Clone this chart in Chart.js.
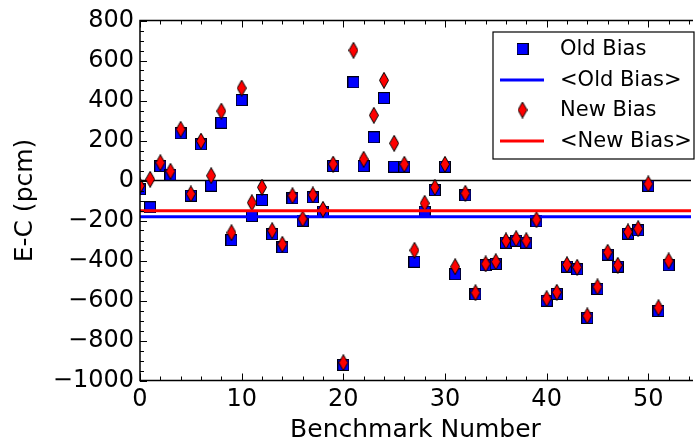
<!DOCTYPE html>
<html><head><meta charset="utf-8">
<script src="https://cdn.jsdelivr.net/npm/chart.js@4"></script>
<style>html,body{margin:0;padding:0;background:#fff;overflow:hidden}</style>
</head><body>
<canvas id="c" width="698" height="443" style="width:698px;height:443px;display:block"></canvas>
<script>
// ---- data ----
const benchmarks = [0,1,2,3,4,5,6,7,8,9,10,11,12,13,14,15,16,17,18,19,20,21,22,23,24,25,26,27,28,29,30,31,32,33,34,35,36,37,38,39,40,41,42,43,44,45,46,47,48,49,50,51,52];
const oldBias = [-44,-134,72,29,236,-76,181,-26,289,-298,402,-178,-98,-268,-334,-89,-201,-84,-156,72,-922,491,72,216,412,69,69,-406,-156,-48,69,-469,-74,-569,-424,-417,-311,-301,-311,-204,-601,-567,-431,-444,-687,-542,-371,-431,-266,-249,-27,-652,-424];
const newBias = [-27,6,89,46,256,-67,197,24,347,-261,462,-111,-34,-251,-319,-76,-192,-72,-144,82,-911,651,106,326,501,186,81,-349,-114,-34,81,-431,-64,-561,-417,-406,-302,-291,-301,-196,-591,-559,-421,-434,-677,-532,-359,-424,-257,-241,-17,-636,-402];
const oldMean = [-181];
const newMean = [-151];
const xRange = [0, 54.2];
const yRange = [-1000, 800];
const xTickLabels = [0,10,20,30,40,50];
const yTickLabels = [-1000,-800,-600,-400,-200,0,200,400,600,800];
const legendLabels = ['Old Bias','<Old Bias>','New Bias','<New Bias>'];

const FONT = "'DejaVu Sans', sans-serif";

// marker images
function makeSquare(){
  const c=document.createElement('canvas'); c.width=12; c.height=12;
  const g=c.getContext('2d');
  g.fillStyle='#000010'; g.fillRect(0,0,12,12);
  g.fillStyle='#0000ff'; g.fillRect(1,1,10,10);
  return c;
}
function makeDiamond(){
  const c=document.createElement('canvas'); c.width=10; c.height=17;
  const g=c.getContext('2d');
  g.beginPath(); g.moveTo(5,0.5); g.lineTo(9.5,8.5); g.lineTo(5,16.5); g.lineTo(0.5,8.5); g.closePath();
  g.fillStyle='#ff0000'; g.fill(); g.lineWidth=1; g.strokeStyle='#000'; g.stroke();
  return c;
}
const sq=makeSquare(), dm=makeDiamond();

const pts = (arr)=>benchmarks.map((b,i)=>({x:b,y:arr[i]}));
const hline = (v)=>[{x:xRange[0],y:v},{x:xRange[1],y:v}];

const framePlugin = {
  id:'frame',
  afterDatasetsDraw(chart){
    const ctx=chart.ctx, a=chart.chartArea, xs=chart.scales.x, ys=chart.scales.y;
    ctx.save();
    ctx.strokeStyle='#000'; ctx.lineWidth=1;
    // x ticks (minor every 2, major every 10), top and bottom, inward
    for(let v=0; v<=54; v+=2){
      const px=Math.round(xs.getPixelForValue(v))+0.5;
      const len=(v%10===0)?7:4;
      ctx.beginPath();
      ctx.moveTo(px,a.bottom); ctx.lineTo(px,a.bottom-len);
      ctx.moveTo(px,a.top); ctx.lineTo(px,a.top+len);
      ctx.stroke();
    }
    // y ticks (minor every 50, major every 200), left, inward
    for(let v=yRange[0]; v<=yRange[1]; v+=50){
      const py=Math.round(ys.getPixelForValue(v))+0.5;
      const len=(v%200===0)?7:4;
      ctx.beginPath(); ctx.moveTo(a.left,py); ctx.lineTo(a.left+len,py); ctx.stroke();
    }
    // spines
    ctx.lineWidth=1.5;
    ctx.beginPath();
    ctx.moveTo(a.right+2,a.top); ctx.lineTo(a.left,a.top); ctx.lineTo(a.left,a.bottom); ctx.lineTo(a.right+2,a.bottom);
    ctx.stroke();
    // legend
    const L=493, T=32, W=201, H=127;
    ctx.fillStyle='#fff'; ctx.fillRect(L,T,W,H);
    ctx.lineWidth=1.2; ctx.strokeStyle='#000'; ctx.strokeRect(L,T,W,H);
    const rows=[49,80,110,141];
    ctx.drawImage(sq, 522.5-6, rows[0]-6);
    ctx.lineWidth=3;
    ctx.strokeStyle='#0000ff'; ctx.beginPath(); ctx.moveTo(500,rows[1]); ctx.lineTo(544,rows[1]); ctx.stroke();
    ctx.drawImage(dm, 522.5-5, rows[2]-8.5);
    ctx.strokeStyle='#ff0000'; ctx.beginPath(); ctx.moveTo(500,rows[3]); ctx.lineTo(544,rows[3]); ctx.stroke();
    ctx.fillStyle='#000'; ctx.font='21px '+FONT; ctx.textBaseline='middle'; ctx.textAlign='left';
    legendLabels.forEach((t,i)=>ctx.fillText(t,560,rows[i]+1));
    ctx.restore();
  }
};

new Chart(document.getElementById('c'), {
  type:'scatter',
  data:{datasets:[
    {label:'zero', data:hline(0), showLine:true, borderColor:'#000', borderWidth:1.5, pointRadius:0, order:5},
    {label:legendLabels[0], data:pts(oldBias), pointStyle:sq, pointRadius:6, order:4},
    {label:legendLabels[1], data:hline(oldMean[0]), showLine:true, borderColor:'#0000ff', borderWidth:3, pointRadius:0, order:3},
    {label:legendLabels[2], data:pts(newBias), pointStyle:dm, pointRadius:6, order:2},
    {label:legendLabels[3], data:hline(newMean[0]), showLine:true, borderColor:'#ff0000', borderWidth:3, pointRadius:0, order:1}
  ]},
  options:{
    responsive:false, animation:false, devicePixelRatio:1,
    layout:{padding:{top:20.5,right:0,bottom:0,left:0}},
    plugins:{legend:{display:false}, tooltip:{enabled:false}},
    scales:{
      x:{type:'linear', position:'bottom', min:xRange[0], max:xRange[1],
        grid:{display:false, drawTicks:false}, border:{display:false},
        afterBuildTicks:(s)=>{s.ticks=xTickLabels.map(v=>({value:v}));},
        afterFit:(s)=>{s.height=62.5;},
        ticks:{font:{family:FONT,size:24}, color:'#000', padding:5, maxRotation:0, autoSkip:false},
        title:{display:true, text:'Benchmark Number', color:'#000', font:{family:FONT,size:25,lineHeight:1}, padding:{top:0,bottom:0}}
      },
      y:{type:'linear', position:'left', min:yRange[0], max:yRange[1],
        grid:{display:false, drawTicks:false}, border:{display:false},
        afterBuildTicks:(s)=>{s.ticks=yTickLabels.map(v=>({value:v}));},
        afterFit:(s)=>{s.width=140;},
        ticks:{font:{family:FONT,size:24}, color:'#000', padding:6, autoSkip:false,
          callback:(v)=> (v<0?'\u2212'+Math.abs(v):String(v))},
        title:{display:true, text:'E-C (pcm)', color:'#000', font:{family:FONT,size:25,lineHeight:1}, padding:{top:12.5,bottom:0}}
      }
    }
  },
  plugins:[framePlugin]
});
</script>
</body></html>
